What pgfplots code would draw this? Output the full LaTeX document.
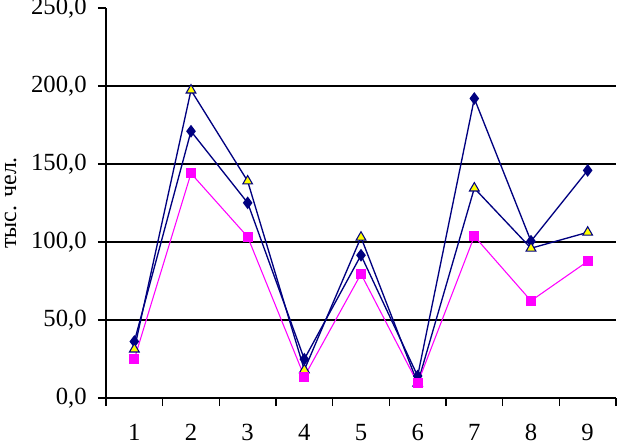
\documentclass[border=0pt]{standalone}
\usepackage{pgfplots}
\pgfplotsset{compat=1.18}
\usepackage{fontspec}
\setmainfont{Liberation Serif}
\definecolor{navyc}{RGB}{0,0,128}
\definecolor{magc}{RGB}{255,0,255}
\definecolor{yelc}{RGB}{255,255,0}
\begin{document}
\begin{tikzpicture}
\begin{axis}[
  at={(0,0)}, anchor=south west,
  scale only axis,
  width=382.5bp, height=292.5bp,
  xmin=0.5, xmax=9.5, ymin=0, ymax=250,
  axis lines*=left,
  axis line style={black, line width=1.1bp},
  xtick={1,...,9},
  major x tick style={draw=none},
  minor xtick={0.5,1.5,...,9.5},
  minor x tick style={black, line width=1bp},
  minor tick length=6bp,
  ytick={0,50,...,250},
  major tick length=6bp,
  y tick style={black, line width=1bp},
  tick align=outside,
  extra y ticks={50,100,150,200},
  extra y tick labels={},
  extra y tick style={grid=major, major tick length=0pt},
  grid style={black, line width=1.1bp},
  /pgf/number format/assume math mode=true,
  yticklabel style={xshift=-5bp, /pgf/number format/.cd, fixed, fixed zerofill, precision=1, use comma},
  xticklabel style={yshift=-10bp},
  tick label style={font=\fontsize{18.5bp}{20bp}\selectfont},
  ylabel={тыс. чел.},
  every axis y label/.style={at={(axis description cs:-0.176,0.5)}, rotate=90, anchor=base, font=\fontsize{18bp}{20bp}\selectfont},
  clip=false,
]
\addplot[color=navyc, line width=1bp, mark=diamond*, mark size=4bp, mark options={fill=navyc, draw=navyc}]
coordinates {(1,36.2) (2,171) (3,125.1) (4,24.9) (5,91.5) (6,14.1) (7,192) (8,100.5) (9,145.9)};
\addplot[color=navyc, line width=1bp, mark=triangle*, mark size=4.2bp, mark options={fill=yelc, draw=navyc, line width=0.8bp}]
coordinates {(1,31.3) (2,197.3) (3,139) (4,18) (5,103) (6,9.4) (7,134.5) (8,96) (9,106.2)};
\addplot[color=magc, line width=0.8bp, mark=square*, mark size=3.3bp, mark options={fill=magc, draw=magc}]
coordinates {(1,24.9) (2,144) (3,103.3) (4,13.7) (5,79.5) (6,9.4) (7,103.7) (8,62.3) (9,87.6)};
\end{axis}
\pgfresetboundingbox
\path (-79.5bp,-33bp) rectangle (383.25bp,298.5bp);
\end{tikzpicture}
\end{document}
